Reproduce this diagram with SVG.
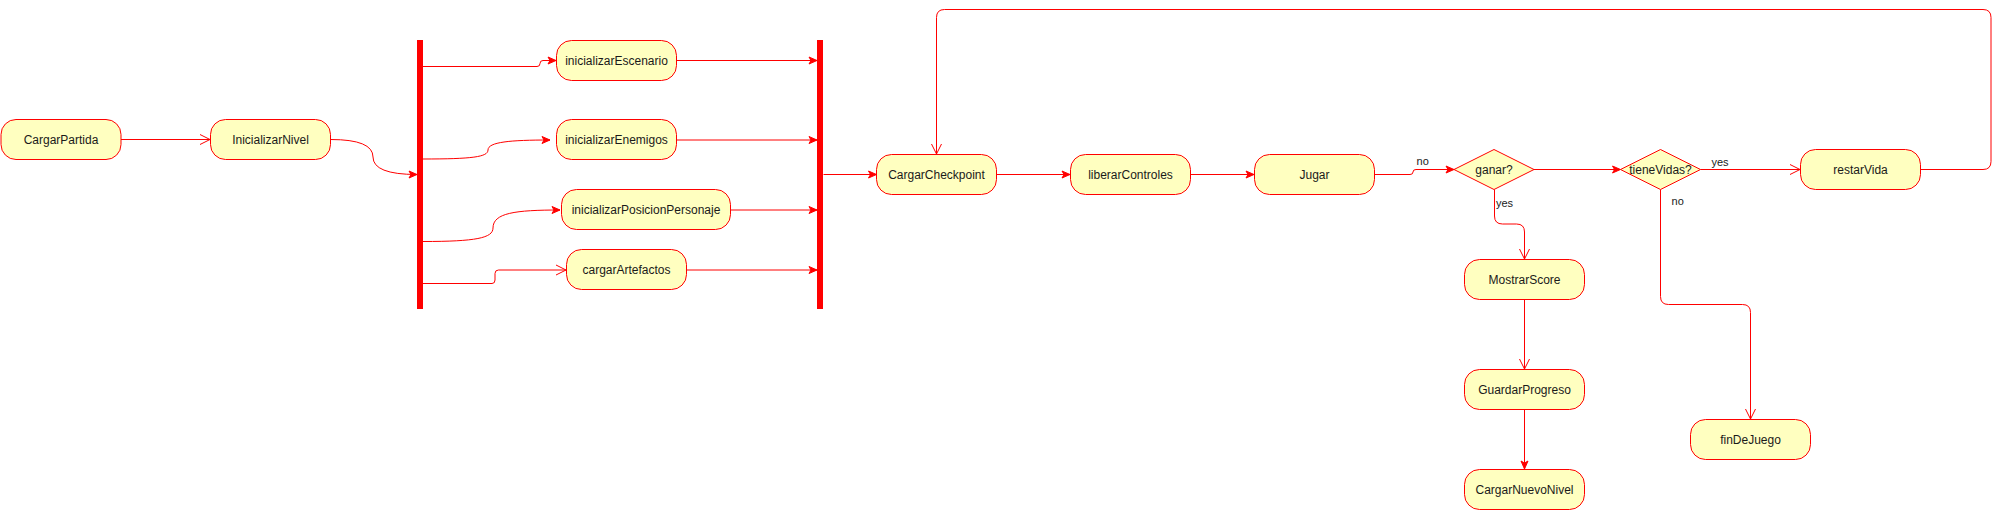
<svg xmlns="http://www.w3.org/2000/svg" width="2003" height="510" viewBox="0 0 2003 510">
<style>
.n rect,.n polygon{fill:#ffffc0;stroke:#ff0000;stroke-width:1}
.bar{fill:#ff0000}
.t{font-family:"Liberation Sans",Arial,sans-serif;font-size:12px;fill:#1a1a1a;text-anchor:middle}
.l{font-family:"Liberation Sans",Arial,sans-serif;font-size:11px;fill:#1a1a1a}
.e path{fill:none;stroke:#ff0000;stroke-width:1}
.e .o{marker-end:url(#open)}
.e .f{marker-end:url(#fill)}
</style>
<defs>
<marker id="open" markerUnits="userSpaceOnUse" markerWidth="12" markerHeight="12" refX="10" refY="5" orient="auto" overflow="visible">
<path d="M0,0 L10,5 L0,10" fill="none" stroke="#ff0000" stroke-width="1"/>
</marker>
<marker id="fill" markerUnits="userSpaceOnUse" markerWidth="10" markerHeight="10" refX="8" refY="3.5" orient="auto" overflow="visible">
<path d="M0,0 L8,3.5 L0,7 L2,3.5 z" fill="#ff0000" stroke="#ff0000" stroke-width="1"/>
</marker>
</defs>
<rect width="2003" height="510" fill="#ffffff"/>
<g class="e" id="connectors">
<path class="o" d="M121,139.5 L210,139.5"/>
<path class="f" d="M330.5,139.5 Q373,139.5 373,157 Q373,174.5 417,174.5"/>
<path class="f" d="M423,66.5 L537,66.5 Q540,66.5 540,63.5 Q540,60.5 543,60.5 L556,60.5"/>
<path class="f" d="M423,159 C472,159 488,157 488,150 C488,142 510,140 550,140"/>
<path class="f" d="M423,241.5 C476,241.5 493,238 493,228 C493,213 515,210 560,210"/>
<path class="o" d="M423,283.5 L492,283.5 Q495,283.5 495,280 L495,273.5 Q495,270 498.5,270 L566,270"/>
<path class="f" d="M677,60.5 L817,60.5"/>
<path class="f" d="M677,140 L817,140"/>
<path class="f" d="M731,210 L817,210"/>
<path class="f" d="M686,270 L817,270"/>
<path class="f" d="M823.5,174.5 L876.5,174.5"/>
<path class="f" d="M996.5,174.5 L1070,174.5"/>
<path class="f" d="M1190.5,174.5 L1254,174.5"/>
<path class="f" d="M1374.5,174.5 L1410,174.5 Q1413,174.5 1413,172 Q1413,169.5 1416,169.5 L1454,169.5"/>
<path class="f" d="M1534,169.5 L1620.5,169.5"/>
<path class="o" d="M1700.5,169.5 L1800,169.5"/>
<path class="o" d="M1494.5,189.5 L1494.5,216 Q1494.5,224 1502.5,224 L1516.5,224 Q1524.5,224 1524.5,232 L1524.5,259"/>
<path class="o" d="M1524.5,299.5 L1524.5,369"/>
<path class="f" d="M1524.5,409.5 L1524.5,469"/>
<path class="o" d="M1660.5,189.5 L1660.5,296.5 Q1660.5,304.5 1668.5,304.5 L1742.5,304.5 Q1750.5,304.5 1750.5,312.5 L1750.5,419"/>
<path class="o" d="M1920.5,169.5 L1983,169.5 Q1991,169.5 1991,161.5 L1991,17.5 Q1991,9.5 1983,9.5 L944.5,9.5 Q936.5,9.5 936.5,17.5 L936.5,154"/>
<text class="l" x="1422.7" y="164.5" text-anchor="middle">no</text>
<text class="l" x="1720" y="166" text-anchor="middle">yes</text>
<text class="l" x="1496" y="206.5">yes</text>
<text class="l" x="1677.7" y="204.5" text-anchor="middle">no</text>
</g>
<g id="CargarPartida" class="n"><rect x="1" y="119.5" width="120" height="40" rx="15"/><text class="t" x="61" y="143.5">CargarPartida</text></g>
<g id="InicializarNivel" class="n"><rect x="210.5" y="119.5" width="120" height="40" rx="15"/><text class="t" x="270.5" y="143.5">InicializarNivel</text></g>
<g id="fork"><rect class="bar" x="417" y="40" width="6" height="269"/></g>
<g id="inicializarEscenario" class="n"><rect x="556.5" y="40.5" width="120" height="40" rx="15"/><text class="t" x="616.5" y="64.5">inicializarEscenario</text></g>
<g id="inicializarEnemigos" class="n"><rect x="556.5" y="119.5" width="120" height="40" rx="15"/><text class="t" x="616.5" y="143.5">inicializarEnemigos</text></g>
<g id="inicializarPosicionPersonaje" class="n"><rect x="561.5" y="189.5" width="169" height="40" rx="15"/><text class="t" x="646" y="213.5">inicializarPosicionPersonaje</text></g>
<g id="cargarArtefactos" class="n"><rect x="566.5" y="249.5" width="120" height="40" rx="15"/><text class="t" x="626.5" y="273.5">cargarArtefactos</text></g>
<g id="join"><rect class="bar" x="817" y="40" width="6" height="269"/></g>
<g id="CargarCheckpoint" class="n"><rect x="876.5" y="154.5" width="120" height="40" rx="15"/><text class="t" x="936.5" y="178.5">CargarCheckpoint</text></g>
<g id="liberarControles" class="n"><rect x="1070.5" y="154.5" width="120" height="40" rx="15"/><text class="t" x="1130.5" y="178.5">liberarControles</text></g>
<g id="Jugar" class="n"><rect x="1254.5" y="154.5" width="120" height="40" rx="15"/><text class="t" x="1314.5" y="178.5">Jugar</text></g>
<g id="ganar" class="n"><polygon points="1454,169.5 1494,149.5 1534,169.5 1494,189.5"/><text class="t" x="1494" y="173.5">ganar?</text></g>
<g id="tieneVidas" class="n"><polygon points="1620.5,169.5 1660.5,149.5 1700.5,169.5 1660.5,189.5"/><text class="t" x="1660.5" y="173.5">tieneVidas?</text></g>
<g id="restarVida" class="n"><rect x="1800.5" y="149.5" width="120" height="40" rx="15"/><text class="t" x="1860.5" y="173.5">restarVida</text></g>
<g id="MostrarScore" class="n"><rect x="1464.5" y="259.5" width="120" height="40" rx="15"/><text class="t" x="1524.5" y="283.5">MostrarScore</text></g>
<g id="GuardarProgreso" class="n"><rect x="1464.5" y="369.5" width="120" height="40" rx="15"/><text class="t" x="1524.5" y="393.5">GuardarProgreso</text></g>
<g id="CargarNuevoNivel" class="n"><rect x="1464.5" y="469.5" width="120" height="40" rx="15"/><text class="t" x="1524.5" y="493.5">CargarNuevoNivel</text></g>
<g id="finDeJuego" class="n"><rect x="1690.5" y="419.5" width="120" height="40" rx="15"/><text class="t" x="1750.5" y="443.5">finDeJuego</text></g>
</svg>
